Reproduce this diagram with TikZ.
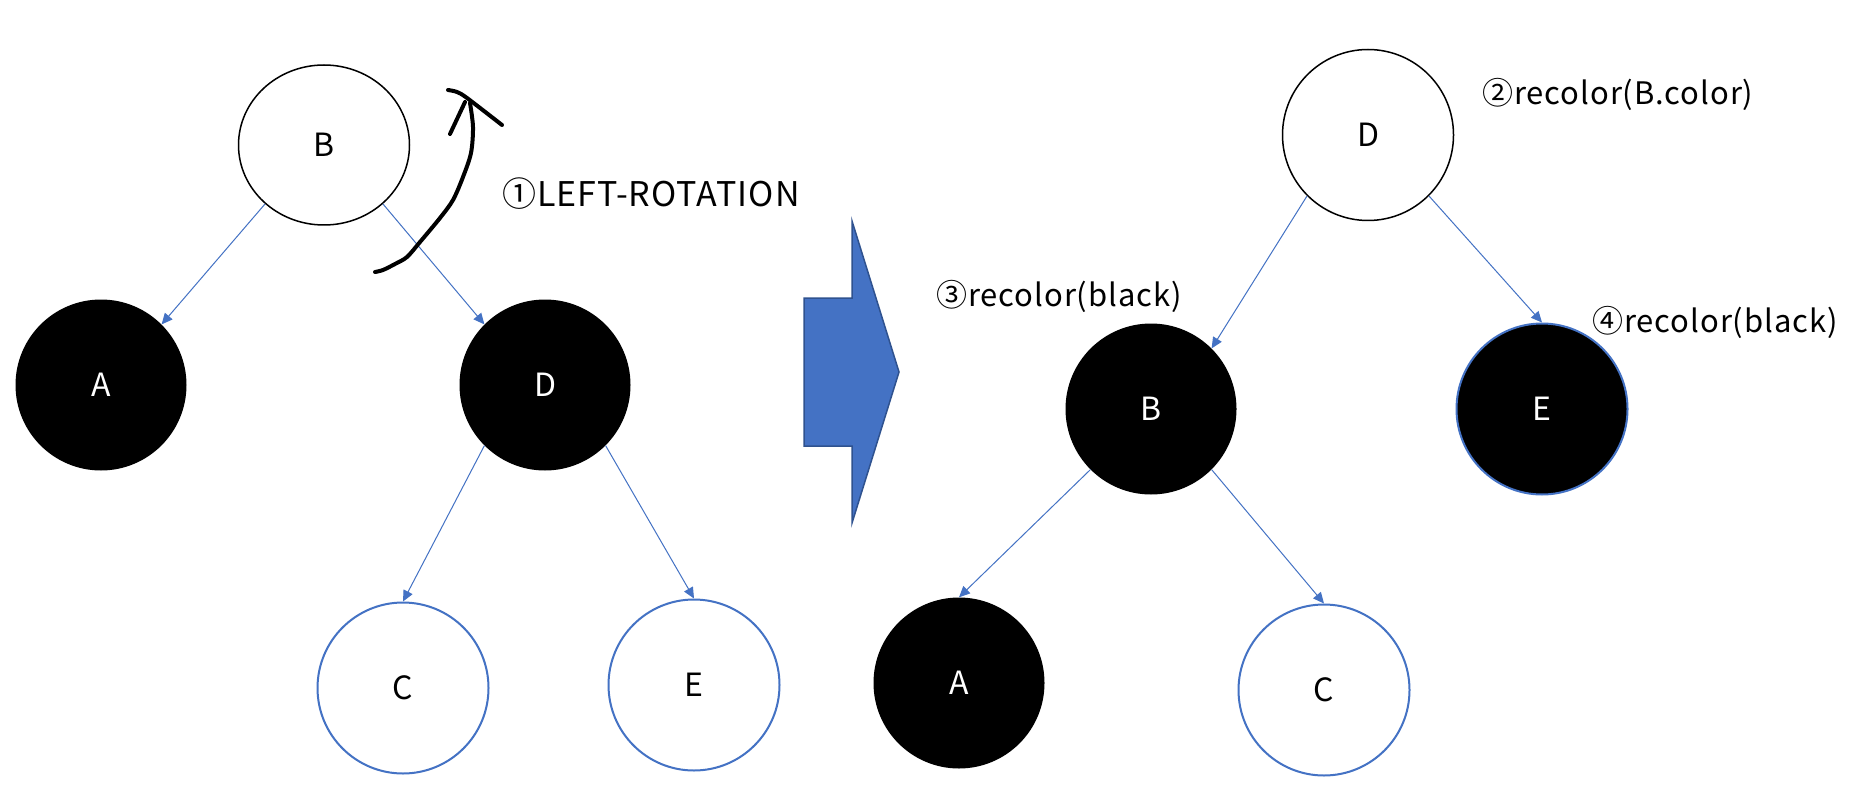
\documentclass[tikz,border=0pt]{standalone}
\usepackage{fontspec}
\setmainfont{Noto Sans CJK SC}
\usetikzlibrary{shapes.geometric,arrows.meta}
\definecolor{eblue}{HTML}{4472C4}
\definecolor{dblue}{HTML}{2F528F}
\begin{document}
\begin{tikzpicture}[x=1pt,y=-1pt,
 tnode/.style={ellipse,minimum width=171pt,minimum height=171pt,inner sep=0pt,font=\fontsize{32}{38}\selectfont},
 whitenode/.style={tnode,draw=black,line width=1.5pt,fill=white},
 blacknode/.style={tnode,fill=black,text=white},
 bluewhite/.style={tnode,draw=eblue,line width=2pt,fill=white},
 blueblack/.style={tnode,draw=eblue,line width=2pt,fill=black,text=white},
 edge/.style={draw=eblue,line width=1pt,-{Triangle[width=10pt,length=11pt]}},
 note/.style={anchor=base west,inner sep=0pt,font=\fontsize{31}{36}\selectfont\addfontfeatures{LetterSpace=3}},
 hand/.style={line width=4pt,line cap=round,line join=round}]
\useasboundingbox[fill=white] (0,0) rectangle (1859,794);

% left tree
\node[whitenode,minimum height=160pt] (lB) at (324,145) {B};
\node[blacknode] (lA) at (101,385) {A};
\node[blacknode] (lD) at (545,385) {D};
\node[bluewhite] (lC) at (403,688) {C};
\node[bluewhite] (lE) at (694,685) {E};
\draw[edge] (lB.225) -- (lA.45);
\draw[edge] (lB.-45) -- (lD.135);
\draw[edge] (lD.225) -- (lC.north);
\draw[edge] (lD.-45) -- (lE.north);

% hand-drawn rotation arrow
\draw[hand] plot[smooth] coordinates {(375,272) (383,270) (395,264) (407,257) (420,242) (440,218) (453,200) (463,177) (471,153) (473,127) (470,103)};
\draw[hand] (450,134) -- (465,102);
\draw[hand] plot[smooth] coordinates {(448,90) (457,92) (467,98) (502,125)};

\node[note,font=\fontsize{34}{40}\selectfont\addfontfeatures{LetterSpace=3}] (n1) at (502,207) {①LEFT-ROTATION};

% big arrow
\draw[fill=eblue,draw=dblue,line width=1.5pt,line join=miter]
  (804,298) -- (852,298) -- (852,221) -- (899,372) -- (852,523) -- (852,446) -- (804,446) -- cycle;

% right tree
\node[whitenode] (rD) at (1368,135) {D};
\node[blacknode] (rB) at (1151,409) {B};
\node[blueblack] (rE) at (1542,409) {E};
\node[blacknode] (rA) at (959,683) {A};
\node[bluewhite] (rC) at (1324,690) {C};
\draw[edge] (rD.225) -- (rB.45);
\draw[edge] (rD.-45) -- (rE.north);
\draw[edge] (rB.225) -- (rA.north);
\draw[edge] (rB.-45) -- (rC.north);

\node[note] (n2) at (1482,105) {②recolor(B.color)};
\node[note] (n3) at (936,306) {③recolor(black)};
\node[note] (n4) at (1592,332) {④recolor(black)};
\end{tikzpicture}
\end{document}
